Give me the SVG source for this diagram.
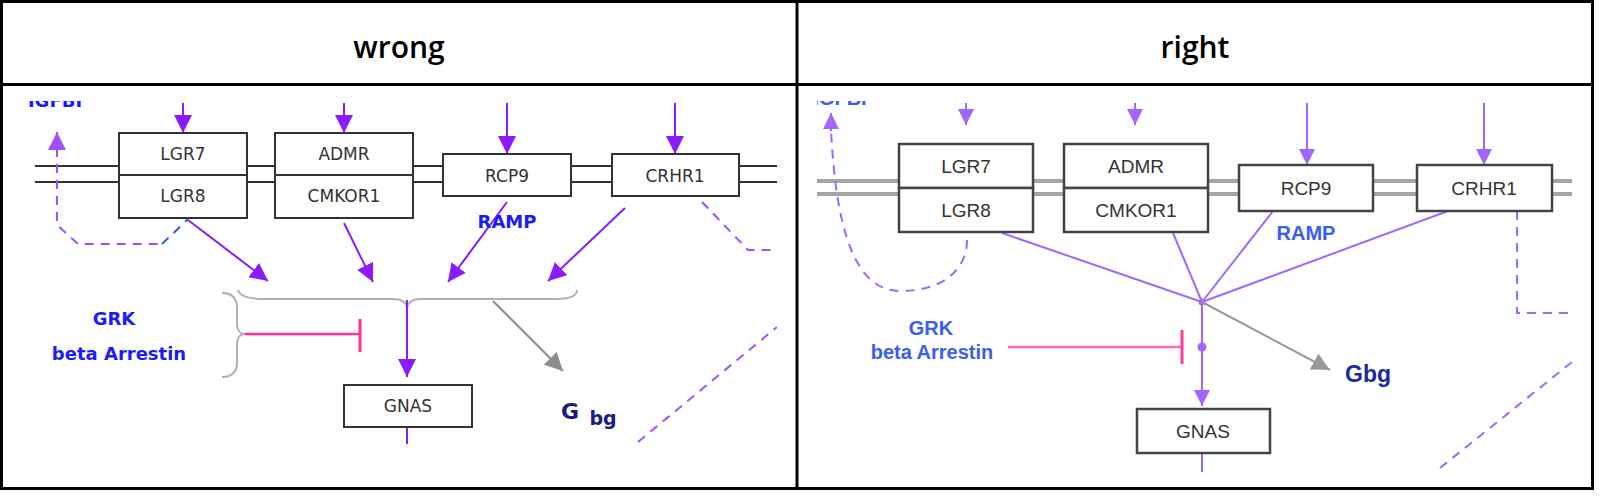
<svg xmlns="http://www.w3.org/2000/svg" width="1602" height="498" viewBox="0 0 1602 498">
<style>
.hdr{font-family:"Open Sans","Liberation Sans",sans-serif;font-weight:600;font-size:30px;fill:#000;text-anchor:middle}
.bx{fill:#fff;stroke:#333;stroke-width:2}
.bxR{fill:#fff;stroke:#444;stroke-width:2.5}
.lt{font-family:"DejaVu Sans",sans-serif;font-size:17px;fill:#333;text-anchor:middle}
.rt{font-family:"Liberation Sans",Arial,sans-serif;font-size:19px;fill:#333;text-anchor:middle}
.lb{font-family:"DejaVu Sans",sans-serif;font-weight:bold;font-size:18px;fill:#1a1aff;text-anchor:middle}
.rb{font-family:"Liberation Sans",Arial,sans-serif;font-weight:bold;font-size:20px;fill:#3a5ff0;text-anchor:middle}
.memL{stroke:#333;stroke-width:2;fill:none}
.memR{stroke:#858585;stroke-width:3.5;fill:none}
.memRi{stroke:#c8c8c8;stroke-width:1;fill:none}
.pL{stroke:#8b1aff;stroke-width:2;fill:none}
.pR{stroke:#a066ff;stroke-width:2;fill:none}
.dL{stroke:#a050ff;stroke-width:2;fill:none;stroke-dasharray:9 7}
.dR{stroke:#a066ff;stroke-width:2;fill:none;stroke-dasharray:9 7}
.gy{stroke:#8c8c8c;stroke-width:2;fill:none}
.br{stroke:#b0b0b0;stroke-width:2;fill:none}
</style>
<defs>
<marker id="aL" markerUnits="userSpaceOnUse" markerWidth="20" markerHeight="20" refX="18" refY="9" orient="auto"><path d="M0,0 L18,9 L0,18 z" fill="#8b1aff"/></marker>
<marker id="aLd" markerUnits="userSpaceOnUse" markerWidth="20" markerHeight="20" refX="18" refY="9" orient="auto"><path d="M0,0 L18,9 L0,18 z" fill="#a050ff"/></marker>
<marker id="gL" markerUnits="userSpaceOnUse" markerWidth="20" markerHeight="20" refX="18" refY="9" orient="auto"><path d="M0,0 L18,9 L0,18 z" fill="#8c8c8c"/></marker>
<marker id="aR" markerUnits="userSpaceOnUse" markerWidth="18" markerHeight="18" refX="16" refY="8" orient="auto"><path d="M0,0 L16,8 L0,16 z" fill="#a066ff"/></marker>
<marker id="gR" markerUnits="userSpaceOnUse" markerWidth="20" markerHeight="20" refX="18" refY="9" orient="auto"><path d="M0,0 L18,9 L0,18 z" fill="#999"/></marker>
<clipPath id="clipL"><rect x="3" y="101" width="774" height="386"/></clipPath>
<clipPath id="clipR"><rect x="817" y="101" width="755" height="386"/></clipPath>
</defs>

<!-- table -->
<g id="table">
<rect x="0" y="0" width="1602" height="498" fill="#fff"/>
<rect x="1.5" y="1.5" width="1591" height="487" fill="none" stroke="#000" stroke-width="3"/>
<line x1="1.5" y1="84.5" x2="1592.5" y2="84.5" stroke="#000" stroke-width="3"/>
<line x1="797" y1="1.5" x2="797" y2="488.5" stroke="#000" stroke-width="3"/>
<text class="hdr" x="399" y="58">wrong</text>
<text class="hdr" x="1195" y="58">right</text>
</g>

<!-- LEFT PANEL (wrong) -->
<g id="wrong-panel" clip-path="url(#clipL)">
<text class="lb" x="55" y="107">IGFBI</text>
<g id="membraneL">
<path class="memL" d="M35,166 H119 M247,166 H275 M413,166 H443 M571,166 H612 M739,166 H777"/>
<path class="memL" d="M35,182 H119 M247,182 H275 M413,182 H443 M571,182 H612 M739,182 H777"/>
</g>
<g id="connectorsL">
<line class="pL" x1="183" y1="103" x2="183" y2="133" marker-end="url(#aL)"/>
<line class="pL" x1="344" y1="103" x2="344" y2="133" marker-end="url(#aL)"/>
<line class="pL" x1="507" y1="103" x2="507" y2="154" marker-end="url(#aL)"/>
<line class="pL" x1="675" y1="103" x2="675" y2="154" marker-end="url(#aL)"/>
<path class="dL" d="M57,132 V225 L78,244 H162" />
<line x1="57" y1="152" x2="57" y2="132" stroke="#a050ff" stroke-width="2" marker-end="url(#aLd)"/>
<path d="M162,244 L188,219" stroke="#3355ff" stroke-width="2" fill="none" stroke-dasharray="9 7"/>
<line class="pL" x1="188" y1="220" x2="268" y2="281" marker-end="url(#aL)"/>
<line class="pL" x1="344" y1="223" x2="373" y2="282" marker-end="url(#aL)"/>
<line class="pL" x1="507" y1="202" x2="448" y2="282" marker-end="url(#aL)"/>
<line class="pL" x1="625" y1="208" x2="548" y2="281" marker-end="url(#aL)"/>
<path class="br" d="M238,290 C240,297 250,299 265,299 L393,299 C401,299 406,302 407,308 C408,302 413,299 421,299 L555,299 C570,299 577,296 577,290"/>
<path class="br" d="M222,293 C232,293 237,298 237,308 L237,324 C237,330 240,334 245,334 C240,334 237,338 237,344 L237,362 C237,372 232,377 222,377"/>
<line class="pL" x1="407" y1="300" x2="407" y2="377" marker-end="url(#aL)"/>
<line class="pL" x1="407" y1="427" x2="407" y2="444"/>
<line class="gy" x1="493" y1="301" x2="563" y2="371" marker-end="url(#gL)"/>
<line x1="245" y1="334" x2="360" y2="334" stroke="#ff3399" stroke-width="2.5"/>
<line x1="360" y1="319" x2="360" y2="352" stroke="#ff3399" stroke-width="3"/>
<path class="dL" d="M702,202 L748,250 H777"/>
<path class="dL" d="M638,442 L777,327"/>
</g>
<g id="LGR7-8L">
<rect class="bx" x="119" y="133" width="128" height="42"/>
<rect class="bx" x="119" y="175" width="128" height="43"/>
<text class="lt" x="183" y="160">LGR7</text>
<text class="lt" x="183" y="202">LGR8</text>
</g>
<g id="ADMR-CMKOR1L">
<rect class="bx" x="275" y="133" width="138" height="42"/>
<rect class="bx" x="275" y="175" width="138" height="43"/>
<text class="lt" x="344" y="160">ADMR</text>
<text class="lt" x="344" y="202">CMKOR1</text>
</g>
<g id="RCP9L">
<rect class="bx" x="443" y="154" width="128" height="42"/>
<text class="lt" x="507" y="182">RCP9</text>
</g>
<g id="CRHR1L">
<rect class="bx" x="612" y="154" width="127" height="42"/>
<text class="lt" x="675" y="182">CRHR1</text>
</g>
<g id="GNASL">
<rect class="bx" x="344" y="385" width="128" height="42"/>
<text class="lt" x="408" y="412">GNAS</text>
</g>
<g id="labelsL">
<text class="lb" x="507" y="228">RAMP</text>
<text class="lb" x="114" y="325">GRK</text>
<text class="lb" x="119" y="360">beta Arrestin</text>
<text x="570" y="419" font-family="DejaVu Sans,sans-serif" font-weight="bold" font-size="22" fill="#1a1a80" text-anchor="middle">G</text>
<text x="603" y="425" font-family="DejaVu Sans,sans-serif" font-weight="bold" font-size="19" fill="#1a1a80" text-anchor="middle">bg</text>
</g>
</g>

<!-- RIGHT PANEL (right) -->
<g id="right-panel" clip-path="url(#clipR)">
<text class="rb" x="840" y="105">IGFBI</text>
<g id="membraneR">
<path class="memR" d="M817,181 H899 M1033,181 H1064 M1208,181 H1239 M1373,181 H1417 M1552,181 H1572"/>
<path class="memR" d="M817,194 H899 M1033,194 H1064 M1208,194 H1239 M1373,194 H1417 M1552,194 H1572"/>
<path class="memRi" d="M817,181 H899 M1033,181 H1064 M1208,181 H1239 M1373,181 H1417 M1552,181 H1572"/>
<path class="memRi" d="M817,194 H899 M1033,194 H1064 M1208,194 H1239 M1373,194 H1417 M1552,194 H1572"/>
</g>
<g id="connectorsR">
<line class="pR" x1="966" y1="103" x2="966" y2="125" marker-end="url(#aR)"/>
<line class="pR" x1="1135" y1="103" x2="1135" y2="125" marker-end="url(#aR)"/>
<line class="pR" x1="1307" y1="103" x2="1307" y2="165" marker-end="url(#aR)"/>
<line class="pR" x1="1484" y1="103" x2="1484" y2="165" marker-end="url(#aR)"/>
<path class="dR" d="M967,240 C967,268 945,291 900,291 C855,291 836,230 831,130"/>
<line x1="831" y1="131" x2="831" y2="113" stroke="#a066ff" stroke-width="2" marker-end="url(#aR)"/>
<line class="pR" x1="1002" y1="233" x2="1202" y2="302"/>
<line class="pR" x1="1173" y1="233" x2="1202" y2="302"/>
<line class="pR" x1="1273" y1="211" x2="1202" y2="302"/>
<line class="pR" x1="1448" y1="211" x2="1202" y2="302"/>
<circle cx="1202" cy="302" r="3.5" fill="#a066ff"/>
<line class="pR" x1="1202" y1="302" x2="1202" y2="406" marker-end="url(#aR)"/>
<circle cx="1202" cy="347" r="4.5" fill="#a066ff"/>
<line class="pR" x1="1202" y1="453" x2="1202" y2="472"/>
<line x1="1202" y1="302" x2="1330" y2="370" stroke="#999" stroke-width="2" marker-end="url(#gR)"/>
<line x1="1008" y1="347" x2="1182" y2="347" stroke="#ff66bb" stroke-width="2.5"/>
<line x1="1182" y1="330" x2="1182" y2="364" stroke="#ff3d9e" stroke-width="3"/>
<path class="dR" d="M1517,211 V313 H1572"/>
<path class="dR" d="M1440,468 L1572,362"/>
</g>
<g id="LGR7-8R">
<rect class="bxR" x="899" y="144" width="134" height="44"/>
<rect class="bxR" x="899" y="188" width="134" height="44"/>
<text class="rt" x="966" y="173">LGR7</text>
<text class="rt" x="966" y="217">LGR8</text>
</g>
<g id="ADMR-CMKOR1R">
<rect class="bxR" x="1064" y="144" width="144" height="44"/>
<rect class="bxR" x="1064" y="188" width="144" height="44"/>
<text class="rt" x="1136" y="173">ADMR</text>
<text class="rt" x="1136" y="217">CMKOR1</text>
</g>
<g id="RCP9R">
<rect class="bxR" x="1239" y="165" width="134" height="46"/>
<text class="rt" x="1306" y="195">RCP9</text>
</g>
<g id="CRHR1R">
<rect class="bxR" x="1417" y="165" width="135" height="46"/>
<text class="rt" x="1484" y="195">CRHR1</text>
</g>
<g id="GNASR">
<rect class="bxR" x="1137" y="409" width="133" height="44"/>
<text class="rt" x="1203" y="438">GNAS</text>
</g>
<g id="labelsR">
<text class="rb" x="1306" y="240">RAMP</text>
<text class="rb" x="931" y="335">GRK</text>
<text class="rb" x="932" y="359">beta Arrestin</text>
<text x="1368" y="382" font-family="Liberation Sans,Arial,sans-serif" font-weight="bold" font-size="23" fill="#1a2a99" text-anchor="middle">Gbg</text>
</g>
</g>
</svg>
